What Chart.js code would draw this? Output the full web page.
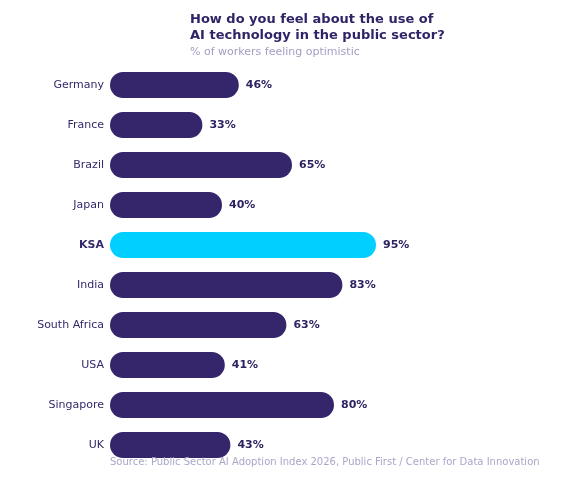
<!DOCTYPE html>
<html>
<head>
<meta charset="utf-8">
<script src="https://cdn.jsdelivr.net/npm/chart.js@4"></script>
<style>
  body { margin: 0; background: #fff; font-family: "DejaVu Sans", sans-serif; }
  #wrap { position: relative; width: 570px; height: 480px; }
  #title { position: absolute; left: 190px; top: 11px; font-size: 13px; font-weight: bold; line-height: 16px; color: #2f2466; }
  #subtitle { position: absolute; left: 190px; top: 45px; font-size: 11px; line-height: 14px; color: #a39dc2; }
  #source { position: absolute; left: 110px; top: 455px; font-size: 10px; line-height: 14px; color: #aaa6c8; white-space: nowrap; }
</style>
</head>
<body>
<div id="wrap">
  <canvas id="c" width="570" height="480"></canvas>
  <div id="title">How do you feel about the use of<br>AI technology in the public sector?</div>
  <div id="subtitle">% of workers feeling optimistic</div>
  <div id="source">Source: Public Sector AI Adoption Index 2026, Public First / Center for Data Innovation</div>
</div>
<script>
const countries = ["Germany", "France", "Brazil", "Japan", "KSA", "India", "South Africa", "USA", "Singapore", "UK"];
const optimistic = [46, 33, 65, 40, 95, 83, 63, 41, 80, 43];
const highlight = "KSA";

const purple = "#35256b";
const cyan = "#00cfff";

// value labels at the end of each bar
const endLabels = {
  id: "endLabels",
  afterDatasetsDraw(chart) {
    const ctx = chart.ctx;
    const meta = chart.getDatasetMeta(0);
    ctx.save();
    ctx.font = "bold 11px 'DejaVu Sans'";
    ctx.fillStyle = "#2e2360";
    ctx.textBaseline = "middle";
    meta.data.forEach((bar, i) => {
      ctx.fillText(optimistic[i] + "%", bar.x + 7, bar.y);
    });
    ctx.restore();
  }
};

new Chart(document.getElementById("c"), {
  type: "bar",
  data: {
    labels: countries,
    datasets: [{
      data: optimistic,
      backgroundColor: countries.map(c => c === highlight ? cyan : purple),
      borderRadius: 13,
      borderSkipped: false,
      categoryPercentage: 0.65,
      barPercentage: 1
    }]
  },
  options: {
    indexAxis: "y",
    responsive: false,
    animation: false,
    layout: { padding: { top: 65, bottom: 15, left: 0, right: 180 } },
    plugins: {
      legend: { display: false },
      tooltip: { enabled: false }
    },
    scales: {
      x: { display: false, min: 0, max: 100 },
      y: {
        afterFit: s => { s.width = 110; },
        grid: { display: false, drawTicks: false },
        border: { display: false },
        ticks: {
          padding: 6,
          color: "#35286b",
          font: ctx => ({
            family: "'DejaVu Sans'",
            size: 11,
            weight: countries[ctx.index] === highlight ? "bold" : "normal"
          })
        }
      }
    }
  },
  plugins: [endLabels]
});
</script>
</body>
</html>
